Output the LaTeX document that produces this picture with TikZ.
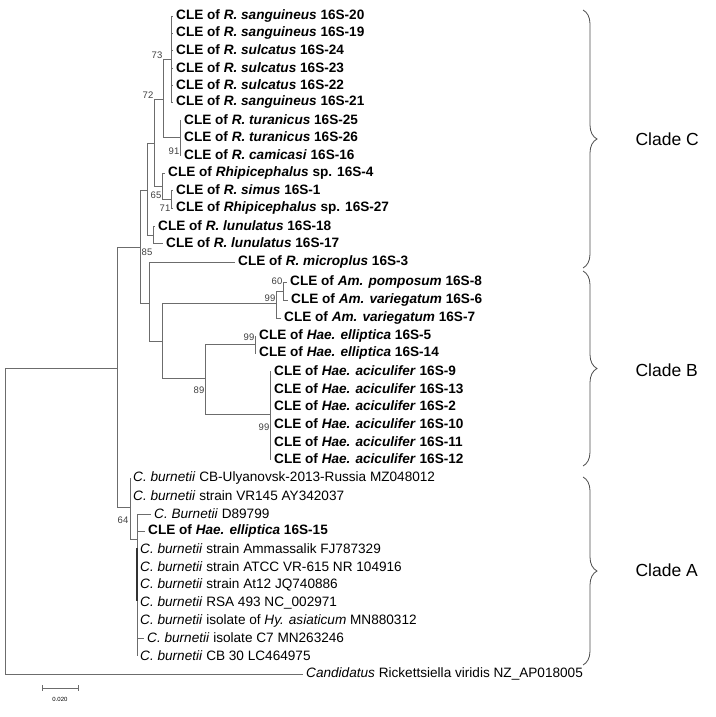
\documentclass[tikz,border=0pt]{standalone}
\usepackage{fontspec}
\setmainfont{Liberation Sans}
\usetikzlibrary{decorations.pathreplacing}
\begin{document}
\begin{tikzpicture}[x=1pt,y=-1pt,
  br/.style={draw=gray!85!black,line width=0.8pt},
  tiplab/.style={anchor=west,inner sep=0pt,font=\fontsize{13.6}{13.6}\selectfont},
  boot/.style={anchor=south east,inner sep=0.5pt,font=\fontsize{9.5}{9.5}\selectfont,text=black!75},
  clade/.style={decorate,decoration={brace,amplitude=14pt,aspect=0.5},draw=gray!60!black,line width=0.8pt},
  cladelab/.style={anchor=west,font=\fontsize{17.5}{17.5}\selectfont}]
\useasboundingbox (0,0) rectangle (715,717);
\newcommand{\tp}[5]{\node[tiplab] (#1) at (#3+3,#4) {#5};\draw[br] (#2,#4) -- (#3,#4);}
% Clade C
\tp{a1}{171}{173}{16}{\textbf{CLE of \textit{R. sanguineus} 16S-20}}
\tp{a2}{171}{173}{33}{\textbf{CLE of \textit{R. sanguineus} 16S-19}}
\tp{a3}{171}{173}{50}{\textbf{CLE of \textit{R. sulcatus} 16S-24}}
\tp{a4}{171}{173}{68}{\textbf{CLE of \textit{R. sulcatus} 16S-23}}
\tp{a5}{171}{173}{85}{\textbf{CLE of \textit{R. sulcatus} 16S-22}}
\tp{a6}{171}{173}{102}{\textbf{CLE of \textit{R. sanguineus} 16S-21}}
\draw[br] (171,16) -- (171,102);
\tp{b1}{180}{181}{120}{\textbf{CLE of \textit{R. turanicus} 16S-25}}
\tp{b2}{180}{181}{137}{\textbf{CLE of \textit{R. turanicus} 16S-26}}
\tp{b3}{180}{181}{155}{\textbf{CLE of \textit{R. camicasi} 16S-16}}
\draw[br] (180,120) -- (180,155);
\draw[br] (163,59) -- (171,59) (163,137) -- (180,137) (163,59) -- (163,137);
\node[boot] at (163,59) {73};
\node[boot] at (180,155) {91};
\draw[br] (154,99) -- (163,99);
\tp{c1}{162}{165}{173}{\textbf{CLE of \textit{Rhipicephalus} sp. 16S-4}}
\tp{c2}{171}{173}{190}{\textbf{CLE of \textit{R. simus} 16S-1}}
\tp{c3}{171}{173}{208}{\textbf{CLE of \textit{Rhipicephalus} sp. 16S-27}}
\draw[br] (171,190) -- (171,208) (162,199) -- (171,199) (162,173) -- (162,199);
\node[boot] at (171,212) {71};
\node[boot] at (162,199) {65};
\draw[br] (154,186) -- (162,186) (154,99) -- (154,186);
\node[boot] at (154,99) {72};
\tp{d1}{153}{155}{226}{\textbf{CLE of \textit{R. lunulatus} 16S-18}}
\tp{d2}{153}{163}{243}{\textbf{CLE of \textit{R. lunulatus} 16S-17}}
\draw[br] (153,226) -- (153,243);
\node[boot] at (153,256) {85};
\draw[br] (147,143) -- (154,143) (147,235) -- (153,235) (147,143) -- (147,235);
\draw[br] (140,190) -- (147,190);
\tp{e1}{149}{235}{262}{\textbf{CLE of \textit{R. microplus} 16S-3}}
% Clade B
\tp{f1}{283}{287}{282}{\textbf{CLE of \textit{Am. pomposum} 16S-8}}
\tp{f2}{283}{288}{300}{\textbf{CLE of \textit{Am. variegatum} 16S-6}}
\draw[br] (283,282) -- (283,300);
\node[boot] at (283,285) {60};
\tp{f3}{276}{281}{318}{\textbf{CLE of \textit{Am. variegatum} 16S-7}}
\draw[br] (276,291) -- (283,291) (276,291) -- (276,318);
\node[boot] at (276,302) {99};
\tp{g1}{255}{256}{336}{\textbf{CLE of \textit{Hae. elliptica} 16S-5}}
\tp{g2}{255}{256}{353}{\textbf{CLE of \textit{Hae. elliptica} 16S-14}}
\draw[br] (255,336) -- (255,353);
\node[boot] at (255,341) {99};
\tp{h1}{270}{271}{371}{\textbf{CLE of \textit{Hae. aciculifer} 16S-9}}
\tp{h2}{270}{271}{389}{\textbf{CLE of \textit{Hae. aciculifer} 16S-13}}
\tp{h3}{270}{271}{406}{\textbf{CLE of \textit{Hae. aciculifer} 16S-2}}
\tp{h4}{270}{271}{424}{\textbf{CLE of \textit{Hae. aciculifer} 16S-10}}
\tp{h5}{270}{271}{442}{\textbf{CLE of \textit{Hae. aciculifer} 16S-11}}
\tp{h6}{270}{271}{459}{\textbf{CLE of \textit{Hae. aciculifer} 16S-12}}
\draw[br] (270,371) -- (270,459);
\node[boot] at (270,431) {99};
\draw[br] (205,344) -- (255,344) (205,414) -- (270,414) (205,344) -- (205,414);
\node[boot] at (205,394) {89};
\draw[br] (162,303) -- (276,303) (162,378) -- (205,378) (162,303) -- (162,378);
\draw[br] (149,341) -- (162,341) (149,262) -- (149,341);
\draw[br] (140,303) -- (149,303) (140,190) -- (140,303);
\draw[br] (117,247) -- (140,247) (117,247) -- (117,507);
% Clade A
\tp{k1}{130}{130}{478}{\textit{C. burnetii} CB-Ulyanovsk-2013-Russia MZ048012}
\tp{k2}{130}{130}{496}{\textit{C. burnetii} strain VR145 AY342037}
\draw[br] (117,507) -- (130,507) (130,478) -- (130,539) (130,539) -- (137,539);
\node[boot] at (129,524) {64};
\tp{m1}{137}{151}{514}{\textit{C. Burnetii} D89799}
\tp{m2}{137}{145}{531}{\textbf{CLE of \textit{Hae. elliptica} 16S-15}}
\tp{m3}{137}{137}{549}{\textit{C. burnetii} strain Ammassalik FJ787329}
\tp{m4}{137}{137}{567}{\textit{C. burnetii} strain ATCC VR-615 NR 104916}
\tp{m5}{137}{137}{585}{\textit{C. burnetii} strain At12 JQ740886}
\tp{m6}{137}{137}{603}{\textit{C. burnetii} RSA 493 NC\_002971}
\tp{m7}{137}{137}{621}{\textit{C. burnetii} isolate of \textit{Hy. asiaticum} MN880312}
\tp{m8}{137}{144}{638}{\textit{C. burnetii} isolate C7 MN263246}
\tp{m9}{137}{137}{656}{\textit{C. burnetii} CB 30 LC464975}
\draw[br] (137,514) -- (137,656);
\draw[line width=1.3pt,black!80] (137,548) -- (137,601);
% root
\draw[br] (5,368) -- (117,368) (5,368) -- (5,674);
\tp{z1}{5}{303}{674}{\textit{Candidatus} Rickettsiella viridis NZ\_AP018005}
% braces
\draw[clade] (583,10) -- (583,268);
\node[cladelab] (cc) at (632,139) {Clade C};
\draw[clade] (583,271) -- (583,466);
\node[cladelab] (cb) at (632,370) {Clade B};
\draw[clade] (583,477) -- (583,665);
\node[cladelab] (ca) at (632,570) {Clade A};
% scale bar
\coordinate (s1) at (42,688); \coordinate (s2) at (78,688);
\draw[br,line width=0.6pt] (s1) -- (s2) (42,685) -- (42,691) (78,685) -- (78,691);
\node[font=\fontsize{6}{6}\selectfont] (sl) at (60,699) {0.020};
\end{tikzpicture}
\end{document}
